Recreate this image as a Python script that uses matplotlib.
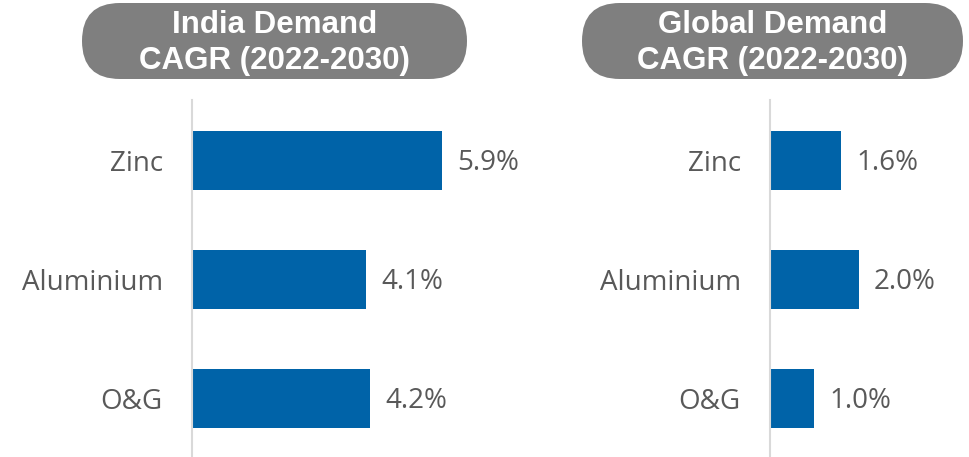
import matplotlib.pyplot as plt
from matplotlib.patches import FancyBboxPatch

# Данные
metals = ["Zinc", "Aluminium", "O&G"]
india_cagr = [5.9, 4.1, 4.2]
global_cagr = [1.6, 2.0, 1.0]
titles = ["India Demand\nCAGR (2022-2030)", "Global Demand\nCAGR (2022-2030)"]

bar_color = "#0063a8"
text_color = "#595959"
box_color = "#7f7f7f"

W, H = 969, 457
fig = plt.figure(figsize=(W / 100, H / 100), dpi=100)

# позиции осей в пикселях: (левый край, ширина, xmax)
panels = [
    (192, 297, 7.0, india_cagr),
    (770, 195, 4.4, global_cagr),
]

for left, width, xmax, values in panels:
    ax = fig.add_axes([left / W, 0, width / W, 357 / H])
    ax.barh(range(len(metals)), values, height=0.5, color=bar_color)
    ax.set_xlim(0, xmax)
    ax.set_ylim(2.49, -0.51)
    ax.set_yticks(range(len(metals)))
    ax.set_yticklabels(metals, fontsize=20, color=text_color, family="Open Sans")
    ax.tick_params(axis="y", length=0, pad=21)
    ax.set_xticks([])
    for s in ["top", "right", "bottom"]:
        ax.spines[s].set_visible(False)
    ax.spines["left"].set_color("#d9d9d9")
    ax.spines["left"].set_linewidth(1.5)
    for i, v in enumerate(values):
        ax.annotate(f"{v:.1f}%", (v, i), xytext=(11, -1.5), textcoords="offset points",
                    ha="left", va="center", fontsize=20, color=text_color,
                    family="Open Sans")

# заголовки в серых скруглённых рамках (координаты в дюймах)
boxes = [(0.82, 4.67), (5.82, 9.63)]
for (x0, x1), title in zip(boxes, titles):
    y0, y1 = (H - 79) / 100, (H - 3) / 100
    patch = FancyBboxPatch((x0, y0), x1 - x0, y1 - y0,
                           boxstyle="round,pad=0,rounding_size=0.38",
                           transform=fig.dpi_scale_trans, facecolor=box_color,
                           edgecolor="none")
    fig.patches.append(patch)
    fig.text((x0 + x1) / 2, (y0 + y1) / 2 - 0.02, title, transform=fig.dpi_scale_trans,
             ha="center", va="center", fontsize=22.5, fontweight="bold", color="white",
             family="Liberation Sans", linespacing=1.25)

fig.savefig("out.png", dpi=100)
